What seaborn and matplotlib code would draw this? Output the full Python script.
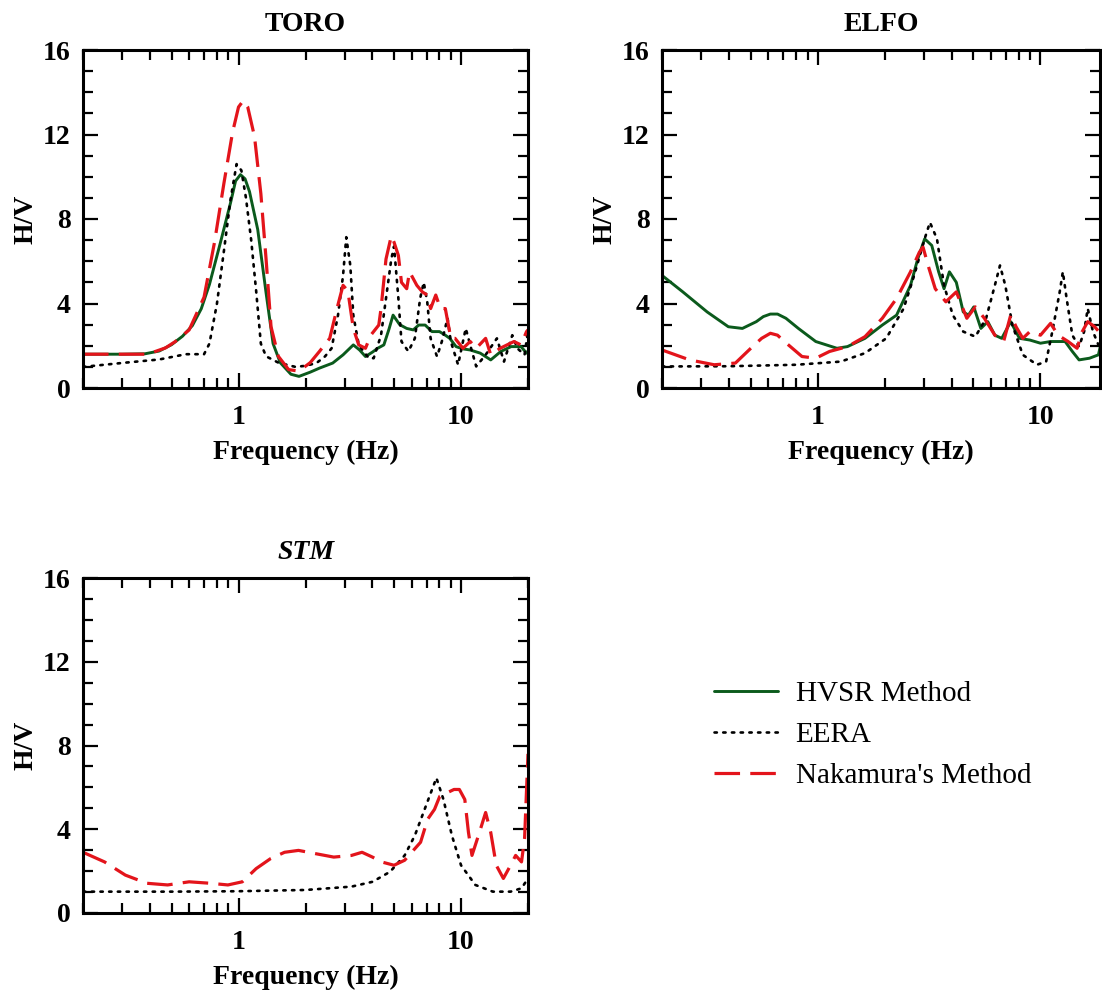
import numpy as np
import pandas as pd
import matplotlib
matplotlib.use("Agg")
import matplotlib.pyplot as plt
import seaborn as sns
from matplotlib.ticker import FixedLocator, NullFormatter, FuncFormatter, MultipleLocator, LogLocator

sns.set_style("ticks")
plt.rcParams['font.family'] = ['Liberation Serif', 'DejaVu Serif']
plt.rcParams['text.color'] = 'black'
plt.rcParams['axes.labelcolor'] = 'black'

GREEN = '#0b5a1c'
RED = '#e3141b'

# ---- TORO ----
toro_hvsr_f = [0.2, 0.3, 0.38, 0.44, 0.5, 0.56, 0.62, 0.68, 0.74, 0.83, 0.92, 0.97, 1.02, 1.07, 1.12, 1.22,
               1.33, 1.43, 1.54, 1.72, 1.87, 2.1, 2.31, 2.65, 2.95, 3.28, 3.5, 3.72, 4.0, 4.22, 4.5, 4.75,
               4.95, 5.3, 5.7, 6.1, 6.45, 6.9, 7.4, 8.0, 8.5, 8.9, 9.5, 10.2, 11.0, 12.2, 13.6, 15.1, 16.8,
               18.6, 19.7, 20]
toro_hvsr_v = [1.6, 1.6, 1.62, 1.75, 2.05, 2.45, 2.95, 3.75, 4.9, 6.9, 8.75, 9.8, 10.1, 9.9, 9.3, 7.5,
               4.5, 2.1, 1.2, 0.65, 0.55, 0.75, 0.94, 1.18, 1.57, 2.04, 1.8, 1.49, 1.7, 1.88, 2.04, 2.8,
               3.45, 3.0, 2.82, 2.75, 2.98, 2.98, 2.67, 2.67, 2.5, 2.35, 1.96, 1.85, 1.8, 1.65, 1.33, 1.73,
               1.96, 1.96, 1.65, 1.75]

toro_eera_f = [0.2, 0.31, 0.44, 0.58, 0.70, 0.74, 0.8, 0.86, 0.92, 0.98, 1.03, 1.08, 1.14, 1.2, 1.26, 1.33,
               1.51, 1.8, 2.0, 2.24, 2.45, 2.62, 2.8, 2.95, 3.05, 3.18, 3.28, 3.47, 3.85, 4.05, 4.37, 4.6,
               4.86, 5.0, 5.23, 5.4, 5.8, 6.2, 6.55, 6.8, 7.05, 7.3, 7.8, 8.2, 8.7, 9.0, 9.7, 10.5, 11.1,
               11.7, 12.9, 14.5, 15.6, 17.0, 17.9, 19.3, 20]
toro_eera_v = [1.0, 1.2, 1.35, 1.6, 1.6, 2.1, 4.0, 6.5, 8.9, 10.6, 10.3, 9.0, 7.0, 4.6, 2.1, 1.5,
               1.2, 1.0, 1.05, 1.18, 1.5, 1.88, 3.45, 5.33, 7.14, 5.8, 3.45, 2.04, 1.41, 1.41, 2.5, 4.24,
               6.1, 6.7, 4.24, 2.2, 1.73, 2.35, 4.24, 5.0, 4.08, 2.35, 1.49, 2.2, 3.3, 2.2, 1.1, 2.82, 1.88,
               1.02, 1.57, 2.35, 1.25, 2.5, 1.88, 1.57, 2.7]

toro_naka_f = [0.2, 0.3, 0.39, 0.47, 0.52, 0.6, 0.7, 0.78, 0.86, 0.94, 1.0, 1.05, 1.1, 1.18, 1.26, 1.33,
               1.4, 1.51, 1.68, 1.87, 2.1, 2.31, 2.57, 2.77, 2.95, 3.1, 3.28, 3.47, 3.72, 3.93, 4.27, 4.37,
               4.6, 4.86, 5.0, 5.23, 5.4, 5.7, 5.87, 6.33, 6.7, 7.05, 7.3, 7.7, 8.08, 8.5, 9.0, 9.4, 10.2,
               11.0, 11.7, 12.9, 13.6, 15.0, 16.1, 17.3, 18.6, 19.7, 20]
toro_naka_v = [1.6, 1.6, 1.6, 1.9, 2.2, 2.75, 4.3, 6.9, 9.7, 12.1, 13.3, 13.6, 13.3, 11.9, 9.2, 6.1,
               2.9, 1.5, 0.87, 0.8, 1.2, 1.73, 2.35, 3.76, 4.86, 4.6, 2.82, 2.04, 1.88, 2.5, 2.98, 3.76,
               6.1, 7.2, 6.9, 6.27, 5.0, 4.7, 5.5, 4.86, 4.55, 4.4, 3.76, 4.4, 3.76, 3.76, 2.35, 2.35, 1.88,
               2.2, 1.88, 2.35, 1.57, 1.88, 2.04, 2.2, 2.04, 2.67, 2.75]

# ---- ELFO ----
elfo_hvsr_f = [0.2, 0.248, 0.319, 0.397, 0.459, 0.53, 0.57, 0.613, 0.66, 0.72, 0.819, 0.98, 1.22, 1.36,
               1.63, 1.95, 2.26, 2.61, 2.81, 3.02, 3.25, 3.49, 3.69, 3.9, 4.19, 4.5, 4.75, 5.02, 5.4, 5.8,
               6.24, 6.7, 7.35, 8.05, 8.96, 10.0, 11.1, 12.9, 13.9, 14.9, 16.6, 18.2, 18.9]
elfo_hvsr_v = [5.33, 4.55, 3.6, 2.9, 2.82, 3.14, 3.38, 3.5, 3.5, 3.3, 2.82, 2.2, 1.88, 1.96,
               2.35, 2.98, 3.45, 4.86, 6.1, 7.06, 6.75, 5.5, 4.7, 5.5, 5.0, 3.6, 3.45, 3.84, 2.82, 3.14,
               2.5, 2.35, 3.14, 2.35, 2.27, 2.12, 2.2, 2.2, 1.73, 1.33, 1.41, 1.57, 2.35]

elfo_eera_f = [0.2, 0.4, 0.8, 1.27, 1.63, 2.03, 2.43, 2.71, 3.02, 3.19, 3.43, 3.69, 4.04, 4.5, 5.1, 5.7,
               6.24, 6.58, 6.95, 7.48, 8.33, 9.64, 10.6, 11.3, 12.2, 12.6, 13.1, 13.9, 14.9, 15.7, 16.3,
               17.2, 18.2, 18.9]
elfo_eera_v = [1.02, 1.03, 1.1, 1.25, 1.65, 2.35, 3.76, 5.33, 7.06, 7.84, 7.06, 4.86, 3.45, 2.67, 2.43, 3.3,
               4.86, 5.8, 4.86, 2.98, 1.57, 1.1, 1.25, 2.67, 4.55, 5.5, 4.24, 2.5, 1.96, 2.67, 3.76,
               2.67, 2.04, 2.0]

elfo_naka_f = [0.2, 0.266, 0.343, 0.427, 0.51, 0.56, 0.613, 0.66, 0.709, 0.85, 0.98, 1.13, 1.36, 1.63,
               1.95, 2.26, 2.61, 2.86, 2.97, 3.13, 3.37, 3.76, 4.19, 4.67, 5.1, 5.6, 6.24, 6.83, 7.35, 7.77,
               8.33, 8.96, 10.0, 11.1, 12.0, 13.3, 14.6, 15.4, 16.3, 17.5, 18.9]
elfo_naka_v = [1.8, 1.33, 1.1, 1.18, 1.96, 2.35, 2.59, 2.5, 2.2, 1.49, 1.41, 1.73, 1.96, 2.43,
               3.3, 4.24, 5.5, 6.43, 6.67, 5.8, 4.7, 4.08, 4.55, 3.3, 3.84, 3.3, 2.5, 2.2, 3.45, 2.9,
               2.35, 2.67, 2.5, 3.06, 2.5, 2.2, 1.88, 2.67, 3.14, 2.9, 2.5]

# ---- STM ----
stm_eera_f = [0.2, 0.5, 1.0, 2.0, 3.22, 4.0, 4.8, 5.58, 6.2, 6.95, 7.75, 8.34, 9.1, 10.0, 11.6, 13.9,
              16.7, 18.7, 20]
stm_eera_v = [1.02, 1.02, 1.04, 1.1, 1.26, 1.49, 1.97, 2.75, 3.7, 5.11, 6.45, 5.42, 3.7, 2.28, 1.34, 1.02,
              1.02, 1.18, 1.65]

stm_naka_f = [0.2, 0.25, 0.31, 0.387, 0.48, 0.6, 0.746, 0.896, 1.04, 1.2, 1.39, 1.61, 1.86, 2.23, 2.68,
              3.22, 3.59, 4.0, 4.39, 5.0, 5.58, 6.0, 6.58, 7.08, 7.6, 8.03, 8.65, 9.3, 9.83, 10.4, 10.8,
              11.2, 12.1, 12.9, 13.6, 14.4, 15.5, 16.7, 17.6, 18.7, 19.3, 20]
stm_naka_v = [2.9, 2.44, 1.81, 1.42, 1.34, 1.49, 1.42, 1.34, 1.49, 2.12, 2.59, 2.9, 2.99, 2.83, 2.67,
              2.75, 2.9, 2.67, 2.44, 2.28, 2.52, 2.9, 3.38, 4.48, 4.95, 5.58, 5.74, 5.9, 5.9, 5.42, 3.85,
              2.75, 3.85, 4.8, 3.85, 2.28, 1.65, 2.28, 2.75, 2.44, 3.54, 7.6]

styles = {
    'HVSR Method': dict(color=GREEN, linewidth=2.1, linestyle='-'),
    'EERA': dict(color='black', linewidth=1.9, linestyle=(0, (0.9, 2.4)), dash_capstyle='round'),
    "Nakamura's Method": dict(color=RED, linewidth=2.3, linestyle=(0, (8, 3.2))),
}

W, H = 1102, 1000
fig = plt.figure(figsize=(W / 100, H / 100), dpi=100)


def px_axes(left, right, top, bottom):
    return fig.add_axes([left / W, 1 - bottom / H, (right - left) / W, (bottom - top) / H])


def style_axes(ax, title, xmax, italic=False):
    ax.set_xscale('log')
    ax.set_xlim(0.2, xmax)
    ax.set_ylim(0, 16)
    ax.xaxis.set_major_locator(FixedLocator([1, 10]))
    ax.xaxis.set_major_formatter(FuncFormatter(lambda v, p: '%g' % v))
    ax.xaxis.set_minor_locator(LogLocator(base=10, subs=np.arange(2, 10)))
    ax.xaxis.set_minor_formatter(NullFormatter())
    ax.yaxis.set_major_locator(MultipleLocator(4))
    ax.yaxis.set_minor_locator(MultipleLocator(1))
    ax.tick_params(which='both', direction='in', top=True, right=True, width=1.6, colors='black',
                   labelsize=20)
    ax.tick_params(axis='x', which='major', pad=12)
    ax.tick_params(axis='y', which='major', pad=9)
    ax.tick_params(which='major', length=11)
    ax.tick_params(which='minor', length=7)
    for s in ax.spines.values():
        s.set_linewidth(2.2)
        s.set_color('black')
    ax.set_title(title, fontsize=20, fontweight='bold', style='italic' if italic else 'normal', pad=14)


def draw(ax, f, v, name):
    df = pd.DataFrame({'f': f, 'v': v})
    sns.lineplot(data=df, x='f', y='v', ax=ax, label=name, errorbar=None, **styles[name])


def labels(ax):
    ax.set_xlabel('Frequency (Hz)', fontsize=20, fontweight='bold', labelpad=7)
    ax.set_ylabel('H/V', fontsize=20, fontweight='bold', labelpad=3)
    for lab in ax.get_xticklabels() + ax.get_yticklabels():
        lab.set_fontweight('bold')


ax_toro = px_axes(83, 528, 50, 388)
style_axes(ax_toro, 'TORO', 20)
draw(ax_toro, toro_hvsr_f, toro_hvsr_v, 'HVSR Method')
draw(ax_toro, toro_eera_f, toro_eera_v, 'EERA')
draw(ax_toro, toro_naka_f, toro_naka_v, "Nakamura's Method")
labels(ax_toro)

ax_elfo = px_axes(662, 1100, 50, 388)
style_axes(ax_elfo, 'ELFO', 18.5)
draw(ax_elfo, elfo_hvsr_f, elfo_hvsr_v, 'HVSR Method')
draw(ax_elfo, elfo_eera_f, elfo_eera_v, 'EERA')
draw(ax_elfo, elfo_naka_f, elfo_naka_v, "Nakamura's Method")
labels(ax_elfo)

ax_stm = px_axes(83, 528, 578, 913)
style_axes(ax_stm, 'STM', 20, italic=True)
draw(ax_stm, stm_eera_f, stm_eera_v, 'EERA')
draw(ax_stm, stm_naka_f, stm_naka_v, "Nakamura's Method")
labels(ax_stm)

handles, labs = ax_toro.get_legend_handles_labels()
for ax in (ax_toro, ax_elfo, ax_stm):
    if ax.get_legend() is not None:
        ax.get_legend().remove()

fig.legend(handles, labs, loc='upper left', bbox_to_anchor=(714 / W, 1 - 681 / H), frameon=False,
           fontsize=21, handlelength=2.2, handletextpad=0.6, labelspacing=0.5, borderpad=0,
           borderaxespad=0)

fig.savefig('out.png', dpi=100)
